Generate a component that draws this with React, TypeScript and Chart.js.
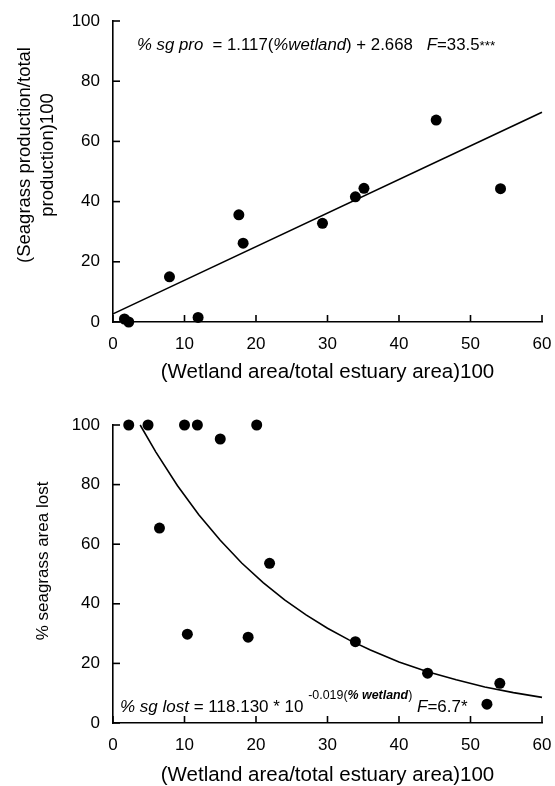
import React, { useEffect, useRef } from "react";
import { Chart, registerables } from "chart.js";

Chart.register(...registerables);

// ---- data ----
const topX = [1.6, 2.2, 7.9, 11.9, 17.6, 18.2, 29.3, 33.9, 35.1, 45.2, 54.2];
const topY = [1, 0, 15, 1.5, 35.6, 26.2, 32.8, 41.6, 44.4, 67.1, 44.3];
const topFitX = [0, 60];
const topFitY = [2.7, 69.7];

const botX = [2.2, 4.9, 10.0, 11.8, 15.0, 20.1, 6.5, 21.9, 10.4, 18.9, 33.9, 44.0, 54.1, 52.3];
const botY = [100, 100, 100, 100, 95.3, 100, 65.4, 53.6, 29.8, 28.8, 27.3, 16.7, 13.3, 6.3];
const botFitX = [3.8, 6, 9, 12, 15, 18, 21, 24, 27, 30, 33, 36, 40, 44, 48, 52, 56, 60];
const botFitY = [100.0, 90.9, 79.7, 69.9, 61.3, 53.7, 47.1, 41.3, 36.3, 31.8, 27.9, 24.5, 20.5, 17.2, 14.5, 12.1, 10.2, 8.6];

const xTicks = [0, 10, 20, 30, 40, 50, 60];
const yTicks = [0, 20, 40, 60, 80, 100];

const xTitle = "(Wetland area/total estuary area)100";
const topYTitle = ["(Seagrass production/total", "production)100"];
const botYTitle = ["% seagrass area lost"];

type Run = { t: string; italic?: boolean; bold?: boolean; sup?: boolean; small?: boolean };

const topEq: Run[] = [
  { t: "% sg pro", italic: true },
  { t: "  = 1.117(" },
  { t: "%wetland", italic: true },
  { t: ") + 2.668   " },
  { t: "F", italic: true },
  { t: "=33.5" },
  { t: "***", small: true },
];

const botEq: Run[] = [
  { t: "% sg lost", italic: true },
  { t: " = 118.130 * 10 " },
  { t: "-0.019(", sup: true },
  { t: "% wetland", sup: true, italic: true, bold: true },
  { t: ")", sup: true },
  { t: " " },
  { t: "F", italic: true },
  { t: "=6.7*" },
];

const FAMILY = '"Liberation Sans", Arial, Helvetica, sans-serif';

const pts = (xs: number[], ys: number[]) => xs.map((x, i) => ({ x, y: ys[i] }));

const decorPlugin = {
  id: "decorPlugin",
  afterDraw(chart: any, _args: any, opts: any) {
    const { ctx, chartArea } = chart;
    const xs = chart.scales.x;
    const ys = chart.scales.y;
    ctx.save();
    // inward tick marks
    ctx.strokeStyle = "#000";
    ctx.lineWidth = 1.6;
    const len = 7;
    xTicks.forEach((v) => {
      const px = xs.getPixelForValue(v);
      ctx.beginPath();
      ctx.moveTo(px, chartArea.bottom);
      ctx.lineTo(px, chartArea.bottom - len);
      ctx.stroke();
    });
    yTicks.forEach((v) => {
      const py = ys.getPixelForValue(v);
      ctx.beginPath();
      ctx.moveTo(chartArea.left, py);
      ctx.lineTo(chartArea.left + len, py);
      ctx.stroke();
    });

    ctx.fillStyle = "#000";
    // rotated y title
    if (opts && opts.yTitle) {
      const yt = opts.yTitle;
      ctx.font = `${yt.size}px ${FAMILY}`;
      ctx.textAlign = "center";
      ctx.textBaseline = "middle";
      yt.lines.forEach((line: string, i: number) => {
        ctx.save();
        ctx.translate(yt.xs[i], yt.cy);
        ctx.rotate(-Math.PI / 2);
        ctx.fillText(line, 0, 0);
        ctx.restore();
      });
    }
    // equation
    if (opts && opts.eq) {
      const eq = opts.eq;
      ctx.textAlign = "left";
      ctx.textBaseline = "alphabetic";
      let cx = eq.x;
      eq.runs.forEach((r: Run) => {
        const fs = r.sup ? eq.size * 0.73 : r.small ? eq.size * 0.8 : eq.size;
        ctx.font = `${r.italic ? "italic " : ""}${r.bold ? "bold " : ""}${fs}px ${FAMILY}`;
        const dy = r.sup ? -eq.raise : 0;
        ctx.fillText(r.t, cx, eq.y + dy);
        cx += ctx.measureText(r.t).width;
      });
    }
    ctx.restore();
  },
};

function makeChart(
  canvas: HTMLCanvasElement,
  scatter: { x: number; y: number }[],
  fit: { x: number; y: number }[],
  cfg: any
) {
  return new Chart(canvas, {
    type: "scatter",
    data: {
      datasets: [
        {
          type: "scatter",
          data: scatter,
          pointRadius: 5.5,
          pointBackgroundColor: "#000",
          pointBorderColor: "#000",
          pointBorderWidth: 0,
          clip: false,
          order: 1,
        } as any,
        {
          type: "line",
          data: fit,
          borderColor: "#000",
          borderWidth: 1.6,
          pointRadius: 0,
          fill: false,
          tension: 0,
          clip: false,
          order: 2,
        } as any,
      ],
    },
    options: {
      responsive: false,
      devicePixelRatio: 1,
      animation: false,
      layout: { padding: { top: cfg.padTop, right: 13, left: 0, bottom: 0 } },
      plugins: {
        legend: { display: false },
        tooltip: { enabled: false },
        decorPlugin: { yTitle: cfg.yTitle, eq: cfg.eq },
      } as any,
      scales: {
        x: {
          type: "linear",
          min: 0,
          max: 60,
          afterBuildTicks: (s: any) => {
            s.ticks = xTicks.map((v) => ({ value: v }));
          },
          afterFit: (s: any) => {
            s.height = cfg.xHeight;
            s.paddingLeft = 0;
            s.paddingRight = 0;
          },
          grid: { display: false, drawTicks: false, tickLength: 0 },
          border: { display: true, color: "#000", width: 1.6 },
          ticks: {
            color: "#000",
            font: { family: FAMILY, size: 17 },
            padding: 12,
            maxRotation: 0,
            autoSkip: false,
          },
          title: {
            display: true,
            text: xTitle,
            color: "#000",
            font: { family: FAMILY, size: 20.5, lineHeight: 1 },
            padding: { top: 0, bottom: cfg.xTitlePad },
          },
        },
        y: {
          type: "linear",
          min: 0,
          max: 100,
          afterBuildTicks: (s: any) => {
            s.ticks = yTicks.map((v) => ({ value: v }));
          },
          afterFit: (s: any) => {
            s.width = 113;
            s.paddingTop = 0;
            s.paddingBottom = 0;
          },
          grid: { display: false, drawTicks: false, tickLength: 0 },
          border: { display: true, color: "#000", width: 1.6 },
          ticks: {
            color: "#000",
            font: { family: FAMILY, size: 17 },
            padding: 13,
            autoSkip: false,
          },
        },
      },
    } as any,
    plugins: [decorPlugin],
  });
}

export default function App() {
  const r1 = useRef<HTMLCanvasElement>(null);
  const r2 = useRef<HTMLCanvasElement>(null);

  useEffect(() => {
    const c1 = makeChart(r1.current!, pts(topX, topY), pts(topFitX, topFitY), {
      padTop: 21,
      xHeight: 393 - 322,
      xTitlePad: 10,
      yTitle: { lines: topYTitle, xs: [25, 48], cy: 155, size: 18.5 },
      eq: { runs: topEq, x: 137, y: 50, size: 16.8, raise: 0 },
    });
    const c2 = makeChart(r2.current!, pts(botX, botY), pts(botFitX, botFitY), {
      padTop: 32,
      xHeight: 393 - 330,
      xTitlePad: 0,
      yTitle: { lines: botYTitle, xs: [43], cy: 168, size: 17 },
      eq: { runs: botEq, x: 120, y: 319, size: 17, raise: 13 },
    });
    return () => {
      c1.destroy();
      c2.destroy();
    };
  }, []);

  return (
    <div style={{ position: "absolute", left: 0, top: 0, width: 555, height: 786, background: "#fff" }}>
      <canvas ref={r1} width={555} height={393} style={{ position: "absolute", left: 0, top: 0 }} />
      <canvas ref={r2} width={555} height={393} style={{ position: "absolute", left: 0, top: 393 }} />
    </div>
  );
}
